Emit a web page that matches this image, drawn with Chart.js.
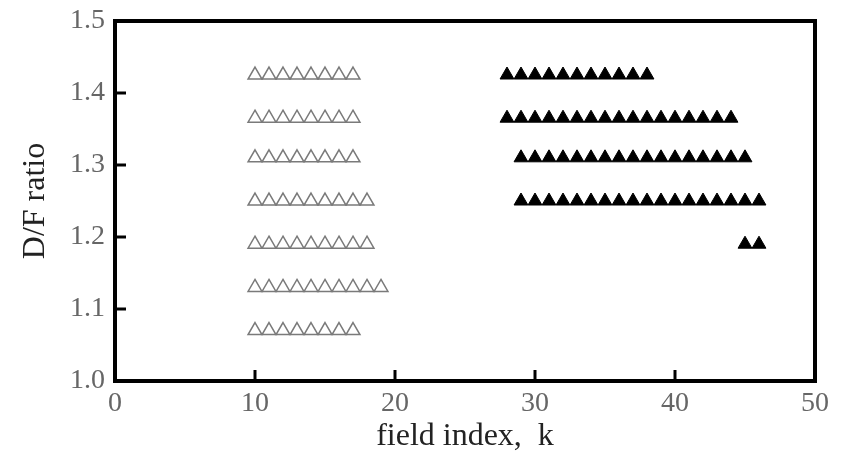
<!DOCTYPE html>
<html>
<head>
<meta charset="utf-8">
<script src="https://cdn.jsdelivr.net/npm/chart.js@4.4.1/dist/chart.umd.min.js"></script>
<style>
  html, body { margin: 0; padding: 0; background: #fff; }
  #wrap { width: 842px; height: 454px; }
</style>
</head>
<body>
<div id="wrap"><canvas id="ratio-chart" width="842" height="454"></canvas></div>
<script>
// rows of open triangles (D/F ratio) and the field indices where they sit
const openRows = [1.07, 1.13, 1.19, 1.25, 1.31, 1.365, 1.425];
const openX = [
    [10, 11, 12, 13, 14, 15, 16, 17],
    [10, 11, 12, 13, 14, 15, 16, 17, 18, 19],
    [10, 11, 12, 13, 14, 15, 16, 17, 18],
    [10, 11, 12, 13, 14, 15, 16, 17, 18],
    [10, 11, 12, 13, 14, 15, 16, 17],
    [10, 11, 12, 13, 14, 15, 16, 17],
    [10, 11, 12, 13, 14, 15, 16, 17],
];

// rows of filled triangles
const filledRows = [1.19, 1.25, 1.31, 1.365, 1.425];
const filledX = [
    [45, 46],
    [29, 30, 31, 32, 33, 34, 35, 36, 37, 38, 39, 40, 41, 42, 43, 44, 45, 46],
    [29, 30, 31, 32, 33, 34, 35, 36, 37, 38, 39, 40, 41, 42, 43, 44, 45],
    [28, 29, 30, 31, 32, 33, 34, 35, 36, 37, 38, 39, 40, 41, 42, 43, 44],
    [28, 29, 30, 31, 32, 33, 34, 35, 36, 37, 38],
];

const xTicks = [0, 10, 20, 30, 40, 50];
const yTicks = [1.0, 1.1, 1.2, 1.3, 1.4, 1.5];

const toPoints = (rows, xs) => rows.flatMap((y, i) => xs[i].map((x) => ({ x, y })));

// box around the plot plus inward ticks, like the original figure
const frame = {
    id: 'frame',
    afterDraw(chart) {
        const { ctx, chartArea: a, scales } = chart;
        ctx.save();
        ctx.strokeStyle = '#000';
        ctx.lineWidth = 3;
        xTicks.slice(1, -1).forEach((v) => {
            const px = Math.round(scales.x.getPixelForValue(v));
            ctx.beginPath();
            ctx.moveTo(px, a.bottom);
            ctx.lineTo(px, a.bottom - 11);
            ctx.stroke();
        });
        yTicks.slice(1, -1).forEach((v) => {
            const py = Math.round(scales.y.getPixelForValue(v));
            ctx.beginPath();
            ctx.moveTo(a.left, py);
            ctx.lineTo(a.left + 11, py);
            ctx.stroke();
        });
        ctx.lineWidth = 4;
        ctx.strokeRect(a.left, a.top, a.right - a.left, a.bottom - a.top);
        ctx.restore();
    },
};

new Chart(document.getElementById('ratio-chart').getContext('2d'), {
    type: 'scatter',
    data: {
        datasets: [
            {
                label: 'open',
                data: toPoints(openRows, openX),
                pointStyle: 'triangle',
                pointRadius: 8,
                backgroundColor: '#fff',
                borderColor: '#7a7a7a',
                borderWidth: 1.5,
            },
            {
                label: 'filled',
                data: toPoints(filledRows, filledX),
                pointStyle: 'triangle',
                pointRadius: 8,
                backgroundColor: '#000',
                borderColor: '#000',
                borderWidth: 1,
            },
        ],
    },
    options: {
        responsive: false,
        animation: false,
        layout: { padding: { left: 0, right: 27, top: 21, bottom: 0 } },
        scales: {
            x: {
                type: 'linear',
                min: 0,
                max: 50,
                afterBuildTicks: (s) => { s.ticks = xTicks.map((value) => ({ value })); },
                afterFit: (s) => { s.height = 73; },
                grid: { display: false },
                border: { display: false },
                ticks: {
                    color: '#666',
                    padding: -2,
                    maxRotation: 0,
                    font: { family: 'Liberation Serif', size: 28 },
                },
                title: {
                    display: true,
                    text: 'field index,  k',
                    color: '#222',
                    padding: { top: 0, bottom: -2 },
                    font: { family: 'Liberation Serif', size: 32 },
                },
            },
            y: {
                type: 'linear',
                min: 1.0,
                max: 1.5,
                afterBuildTicks: (s) => { s.ticks = yTicks.map((value) => ({ value })); },
                afterFit: (s) => { s.width = 115; },
                grid: { display: false },
                border: { display: false },
                ticks: {
                    color: '#666',
                    padding: 2,
                    callback: (v) => Number(v).toFixed(1),
                    font: { family: 'Liberation Serif', size: 28 },
                },
                title: {
                    display: true,
                    text: 'D/F ratio',
                    color: '#222',
                    padding: { top: 16, bottom: 0 },
                    font: { family: 'Liberation Serif', size: 32 },
                },
            },
        },
        plugins: {
            legend: { display: false },
            tooltip: { enabled: false },
        },
    },
    plugins: [frame],
});
</script>
</body>
</html>
